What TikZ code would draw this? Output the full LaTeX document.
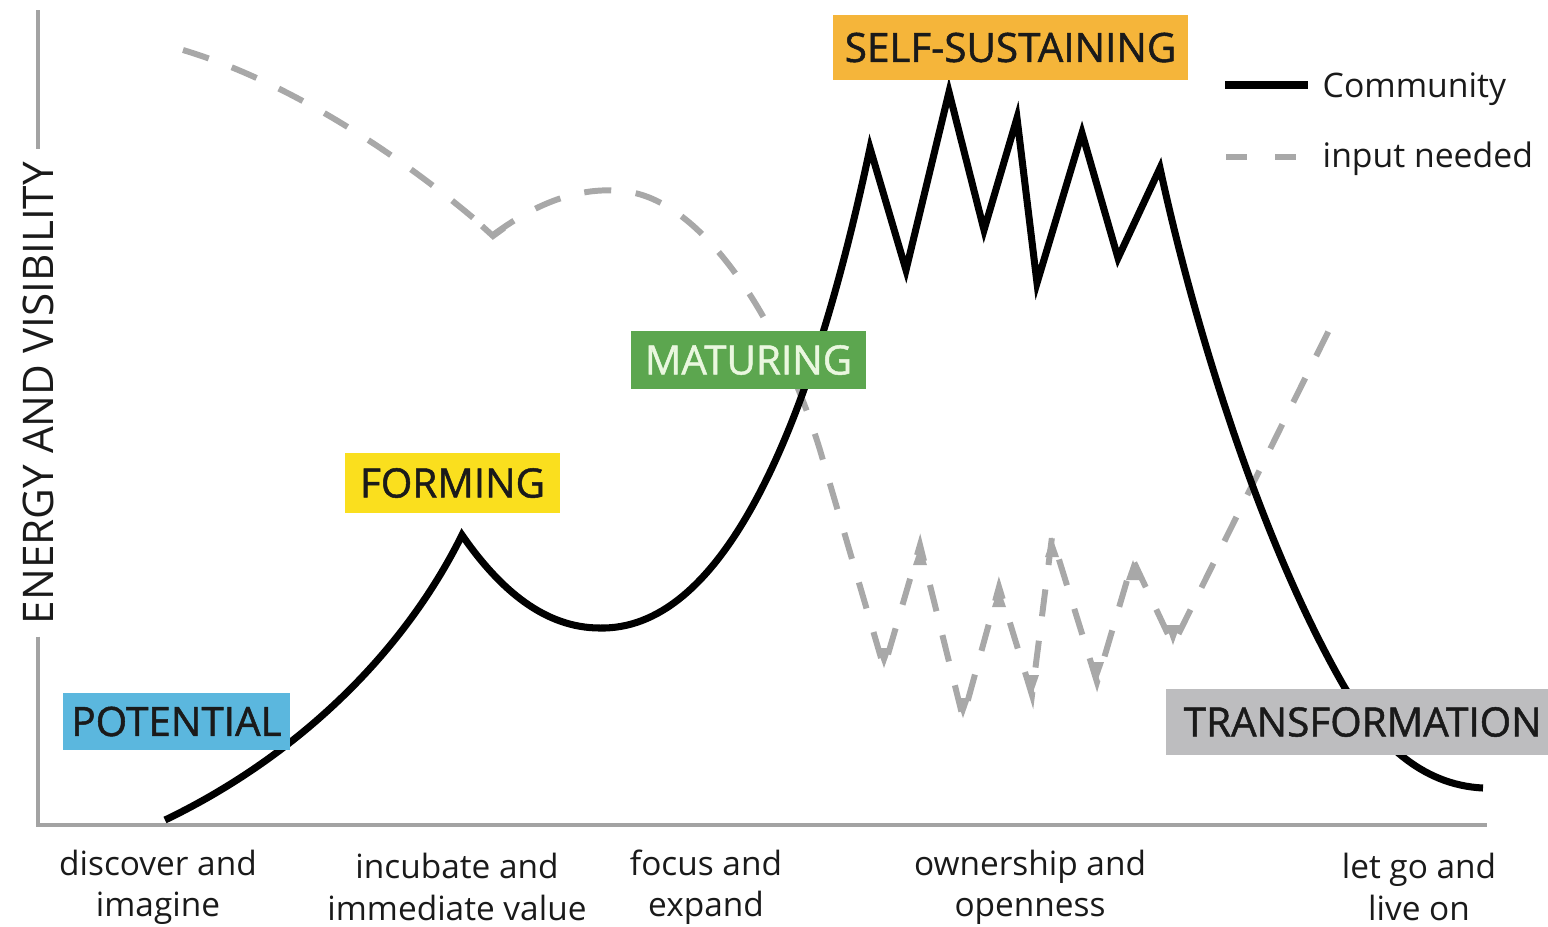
\documentclass[tikz,border=0pt]{standalone}
\usepackage{fontspec}
\setmainfont{Open Sans}
\newfontfamily\stagefont[FakeBold=1.2]{Open Sans}
\definecolor{axisgray}{HTML}{A3A3A3}
\definecolor{inputgray}{HTML}{A8A8A8}
\definecolor{potblue}{HTML}{5BB7DE}
\definecolor{formyellow}{HTML}{FADF1E}
\definecolor{matgreen}{HTML}{5CA64F}
\definecolor{matwhite}{HTML}{EAF7DF}
\definecolor{selforange}{HTML}{F5B53A}
\definecolor{transgray}{HTML}{BDBDBF}
\definecolor{inkdark}{HTML}{1A1A1A}

\begin{document}
\begin{tikzpicture}[x=0.01cm, y=-0.01cm,
	axisline/.style={axisgray, line width=1.3pt},
	community/.style={black, line width=2pt, miter limit=20},
	input/.style={inputgray, line width=1.7pt, dash pattern=on 7.7pt off 7pt},
	stage/.style={inner sep=0pt, text=inkdark, font=\stagefont\fontsize{11.5}{14}\selectfont},
	phase/.style={align=center, text=inkdark, font=\fontsize{9.5}{11.7}\selectfont},
	legtext/.style={anchor=base west, inner sep=0pt, text=inkdark, font=\fontsize{9.6}{12}\selectfont}]
	\useasboundingbox (0,0) rectangle (1548,926);

		%axes
	\node[rotate=90, inner xsep=0.12cm, text=inkdark, font=\fontsize{12}{14}\selectfont] (ylabel) at (38,393) {ENERGY AND VISIBILITY};
	\draw[axisline] (38,10) -- (ylabel.east);
	\draw[axisline] (ylabel.west) -- (38,825) -- (1487,825);

		%input needed
	\draw[input] (183,50) .. controls (300,85) and (420,170) .. (493,235)
		.. controls (540,200) and (585,185) .. (630,192)
		.. controls (705,205) and (780,320) .. (820,450)
		-- (884,668) -- (920,545) -- (963,718) -- (999,587) -- (1032,695)
		-- (1052,537) -- (1097,682) -- (1133,560) -- (1173,645) -- (1335,318);
	\draw[inputgray, line width=1.7pt] (482,226) -- (493,236) -- (504,228);
	\foreach \x/\y in {884/668, 963/718, 1032/695, 1097/682, 1173/645}
		\fill[inputgray] (\x,\y) -- ++(-7,-20) -- ++(14,0) -- cycle;
	\foreach \x/\y in {920/545, 999/587, 1052/537, 1133/560}
		\fill[inputgray] (\x,\y) -- ++(-7,20) -- ++(14,0) -- cycle;

		%community
	\draw[community] (165,820) .. controls (290,760) and (400,660) .. (462,535)
		.. controls (500,590) and (545,628) .. (600,628)
		.. controls (715,630) and (805,455) .. (870,148)
		-- (906,270) -- (949,92) -- (984,230) -- (1017,118) -- (1037,283)
		-- (1082,133) -- (1118,258) -- (1160,168)
		.. controls (1195,330) and (1262,545) .. (1345,688)
		.. controls (1377,740) and (1420,785) .. (1483,788);

		%stages
	\node[stage, fill=potblue, text=inkdark, minimum width=2.27cm, minimum height=0.57cm] (potential) at (176.5,721.5) {POTENTIAL};
	\node[stage, fill=formyellow, minimum width=2.15cm, minimum height=0.6cm] (forming) at (452.5,483) {FORMING};
	\node[stage, fill=matgreen, text=matwhite, minimum width=2.35cm, minimum height=0.58cm] (maturing) at (748.5,360) {MATURING};
	\node[stage, fill=selforange, minimum width=3.55cm, minimum height=0.65cm] (selfsus) at (1010.5,47.5) {SELF-SUSTAINING};
	\node[stage, fill=transgray, anchor=west, inner xsep=0.18cm, minimum height=0.66cm] (transform) at (1165,722) {TRANSFORMATION};

		%legend
	\node[legtext] (legcomm) at (1322,97) {Community};
	\node[legtext] (leginput) at (1322,167) {input needed};
	\draw[community] (1225,85) -- (1308,85);
	\draw[input, dash pattern=on 6pt off 8pt] (1226,157) -- (1300,157);

		%phases
	\node[phase] (discover) at (158,887) {discover and\\imagine};
	\node[phase] (incubate) at (457,887) {incubate and\\immediate value};
	\node[phase] (focus) at (706,887) {focus and\\expand};
	\node[phase] (ownership) at (1030,887) {ownership and\\openness};
	\node[phase] (letgo) at (1419,887) {let go and\\live on};
\end{tikzpicture}
\end{document}
